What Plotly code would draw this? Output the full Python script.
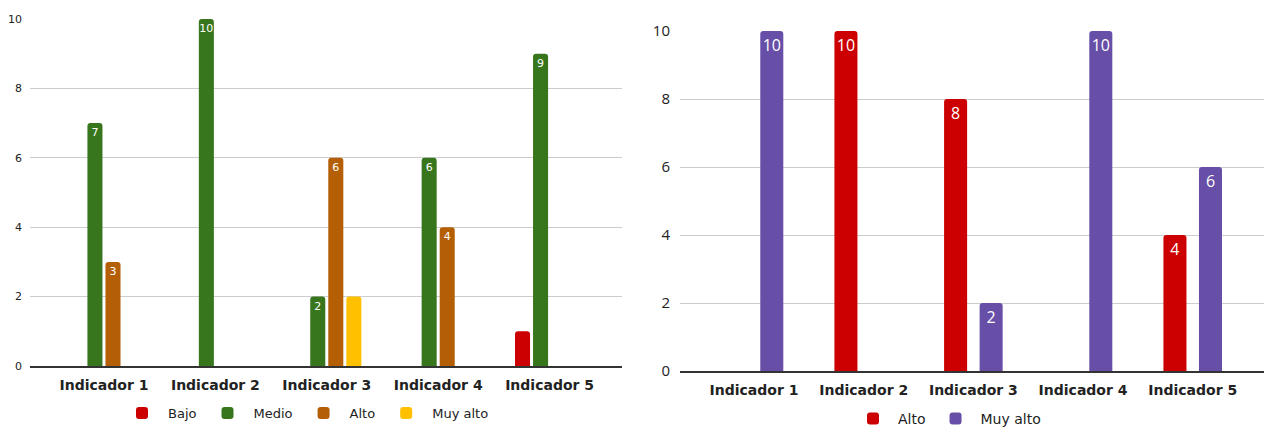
import plotly.graph_objects as go

categories = ["Indicador 1", "Indicador 2", "Indicador 3", "Indicador 4", "Indicador 5"]

# Left chart
left_series = ["Bajo", "Medio", "Alto", "Muy alto"]
left_bajo = [0, 0, 0, 0, 1]
left_medio = [7, 10, 2, 6, 9]
left_alto = [3, 0, 6, 4, 0]
left_muy_alto = [0, 0, 2, 0, 0]
left_show_labels = [False, True, True, False]
left_colors = ["#cc0000", "#38761d", "#b45f06", "#ffc000"]

# Right chart
right_series = ["Alto", "Muy alto"]
right_alto = [0, 10, 8, 0, 4]
right_muy_alto = [10, 0, 2, 10, 6]
right_colors = ["#cc0000", "#674ea7"]

y_ticks = [0, 2, 4, 6, 8, 10]

W, H = 1267, 427


def lab(vals, show=True):
    return [str(v) if (v and show) else "" for v in vals]


fig = go.Figure()

for name, vals, col, show in zip(left_series, [left_bajo, left_medio, left_alto, left_muy_alto],
                                 left_colors, left_show_labels):
    fig.add_trace(go.Bar(
        x=categories, y=vals, name=name, marker=dict(color=col, line=dict(width=0)),
        text=lab(vals, show), textposition="inside", insidetextanchor="end",
        constraintext="none", textangle=0,
        textfont=dict(family="DejaVu Sans", size=11, color="#ffffff"),
        width=0.135, xaxis="x", yaxis="y", legend="legend", hoverinfo="skip",
    ))

for name, vals, col in zip(right_series, [right_alto, right_muy_alto], right_colors):
    fig.add_trace(go.Bar(
        x=categories, y=vals, name=name, marker=dict(color=col, line=dict(width=0)),
        text=lab(vals), textposition="inside", insidetextanchor="end",
        constraintext="none", textangle=0,
        textfont=dict(family="Open Sans", size=16, color="#ffffff"),
        width=0.21, xaxis="x2", yaxis="y2", legend="legend2", hoverinfo="skip",
    ))

fig.update_layout(
    width=W, height=H, margin=dict(l=0, r=0, t=0, b=0, autoexpand=False),
    paper_bgcolor="white", plot_bgcolor="white",
    barmode="group", bargap=0.352, bargroupgap=0, barcornerradius=3,
    xaxis=dict(domain=[30 / W, 622 / W], range=[-0.664, 4.65], anchor="y", automargin=False,
               showline=True, linecolor="#333333", linewidth=2, showgrid=False,
               ticks="", ticklabelstandoff=5,
               tickfont=dict(family="DejaVu Sans", size=14, color="#222222", weight="bold")),
    yaxis=dict(domain=[(H - 366) / H, (H - 19) / H], range=[0, 10], anchor="x", automargin=False,
               tickvals=y_ticks, showgrid=True, gridcolor="#cccccc", gridwidth=1,
               zeroline=False, showline=False, ticks="", ticklabelstandoff=7,
               tickfont=dict(family="DejaVu Sans", size=11, color="#222222")),
    xaxis2=dict(domain=[680 / W, 1264 / W], range=[-0.675, 4.65], anchor="y2", automargin=False,
                showline=True, linecolor="#333333", linewidth=2, showgrid=False,
                ticks="", ticklabelstandoff=5,
                tickfont=dict(family="DejaVu Sans", size=14, color="#222222", weight="bold")),
    yaxis2=dict(domain=[(H - 371) / H, (H - 31) / H], range=[0, 10], anchor="x2", automargin=False,
                tickvals=y_ticks, showgrid=True, gridcolor="#cccccc", gridwidth=1,
                zeroline=False, showline=False, ticks="", ticklabelstandoff=9,
                tickfont=dict(family="Open Sans", size=15, color="#222222")),
    legend=dict(orientation="h", x=305 / W, xanchor="center", y=(H - 413) / H, yanchor="middle",
                font=dict(family="DejaVu Sans", size=13, color="#222222"),
                itemwidth=42,
                bgcolor="rgba(0,0,0,0)", traceorder="normal"),
    legend2=dict(orientation="h", x=947 / W, xanchor="center", y=(H - 419) / H, yanchor="middle",
                 font=dict(family="DejaVu Sans", size=14, color="#222222"),
                 itemwidth=40,
                 bgcolor="rgba(0,0,0,0)", traceorder="normal"),
    showlegend=True,
)

fig.write_html("out.html")
